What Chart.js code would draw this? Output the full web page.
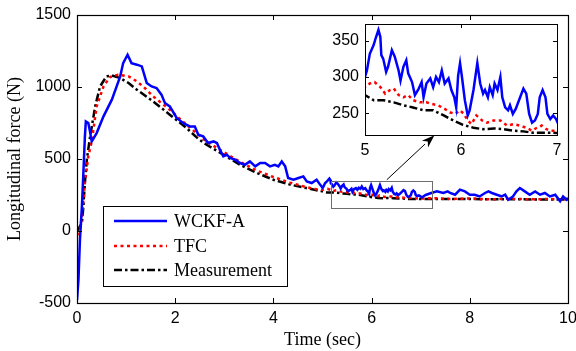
<!DOCTYPE html>
<html>
<head>
<meta charset="utf-8">
<script src="https://cdn.jsdelivr.net/npm/chart.js@4.4.0/dist/chart.umd.min.js"></script>
<style>
  html, body { margin: 0; padding: 0; background: #fff; }
  #wrap { position: relative; width: 576px; height: 351px; }
  #main { position: absolute; left: 0; top: 0; }
  #inset { position: absolute; left: 322px; top: 18px; }
</style>
</head>
<body>
<div id="wrap">
  <canvas id="main" width="576" height="351"></canvas>
  <canvas id="inset" width="243" height="145"></canvas>
</div>
<script>
// series (time in sec, force in N)
const wckfT = [0, 0.03, 0.06, 0.1, 0.13, 0.16, 0.18, 0.23, 0.26, 0.3, 0.4, 0.54, 0.71, 0.88, 0.94, 1.03, 1.11, 1.22, 1.32, 1.42, 1.52, 1.62, 1.72, 1.79, 1.89, 2.03, 2.16, 2.3, 2.4, 2.47, 2.57, 2.67, 2.78, 2.85, 2.91, 2.98, 3.05, 3.12, 3.22, 3.32, 3.42, 3.52, 3.63, 3.73, 3.83, 3.93, 4.03, 4.1, 4.17, 4.24, 4.3, 4.41, 4.51, 4.61, 4.68, 4.78, 4.88, 4.95,
  5.0, 5.02, 5.05, 5.09, 5.11, 5.14, 5.16, 5.17, 5.19, 5.22, 5.24, 5.28, 5.31, 5.35, 5.37, 5.4, 5.43, 5.45, 5.49, 5.52, 5.56, 5.59, 5.61, 5.64, 5.68, 5.71, 5.74, 5.77, 5.8, 5.83, 5.87, 5.9, 5.93, 5.95, 5.97, 5.99, 6.01, 6.04, 6.07, 6.09, 6.13, 6.17, 6.2, 6.23, 6.25, 6.28, 6.3, 6.33, 6.35, 6.38, 6.41, 6.43, 6.46, 6.49, 6.51, 6.54, 6.57, 6.61, 6.65, 6.68, 6.71, 6.74, 6.77, 6.8, 6.82, 6.85, 6.88, 6.9, 6.93, 6.96, 6.99, 7.02,
  7.1, 7.2, 7.33, 7.46, 7.55, 7.6, 7.7, 7.8, 7.9, 8.0, 8.1, 8.2, 8.31, 8.38, 8.45, 8.55, 8.65, 8.72, 8.78, 8.88, 8.95, 9.02, 9.12, 9.22, 9.33, 9.43, 9.53, 9.63, 9.74, 9.84, 9.9, 9.97, 10];
const wckfF = [-480, -338, -60, 171, 404, 650, 761, 750, 700, 622, 680, 796, 912, 1074, 1166, 1224, 1166, 1155, 1143, 1028, 1004, 993, 947, 889, 865, 785, 750, 726, 726, 669, 657, 611, 622, 611, 565, 518, 530, 507, 495, 472, 460, 483, 449, 472, 472, 449, 460, 449, 483, 449, 368, 356, 368, 379, 344, 333, 356, 322,
  300, 309, 332, 344, 353, 365, 355, 330, 325, 307, 314, 337, 328, 309, 295, 314, 323, 305, 293, 275, 284, 293, 272, 291, 298, 286, 300, 293, 309, 291, 298, 282, 272, 258, 302, 319, 300, 268, 247, 254, 282, 319, 291, 277, 282, 272, 286, 275, 291, 282, 300, 272, 258, 254, 261, 249, 256, 270, 284, 277, 249, 237, 240, 249, 272, 282, 272, 249, 242, 247, 242, 233,
  250, 262, 275, 264, 275, 264, 252, 287, 275, 252, 252, 240, 264, 275, 264, 252, 240, 252, 217, 240, 275, 298, 275, 252, 275, 252, 264, 240, 252, 206, 240, 217, 230];

const tfcT = [0, 0.06, 0.1, 0.16, 0.23, 0.3, 0.4, 0.54, 0.67, 0.84, 1.05, 1.22, 1.38, 1.55, 1.89, 2.23, 2.47, 2.64, 2.98, 3.32, 3.66, 4.0, 4.34, 4.67, 4.85,
  5.0, 5.05, 5.1, 5.16, 5.21, 5.26, 5.3, 5.35, 5.4, 5.45, 5.5, 5.57, 5.64, 5.69, 5.76, 5.83, 5.89, 5.94, 5.99, 6.03, 6.07, 6.11, 6.16, 6.22, 6.27, 6.34, 6.41, 6.48, 6.55, 6.61, 6.68, 6.74, 6.79, 6.84, 6.89, 6.94, 7.0,
  7.3, 7.6, 8.0, 8.4, 8.8, 9.2, 9.6, 10];
const tfcF = [-30, 9, 100, 333, 518, 622, 865, 1004, 1069, 1085, 1074, 1039, 993, 935, 842, 738, 669, 620, 550, 480, 420, 375, 335, 305, 292,
  286, 291, 293, 286, 277, 282, 284, 275, 272, 275, 268, 265, 265, 263, 261, 256, 251, 249, 254, 249, 240, 235, 247, 240, 237, 240, 240, 233, 235, 233, 230, 226, 230, 233, 228, 226, 226,
  228, 222, 226, 220, 224, 220, 222, 218];

const measT = [0, 0.1, 0.13, 0.16, 0.2, 0.26, 0.37, 0.47, 0.6, 0.71, 0.88, 1.05, 1.22, 1.55, 1.89, 2.23, 2.47, 2.64, 2.98, 3.32, 3.66, 4.0, 4.34, 4.67,
  5.0, 5.09, 5.19, 5.3, 5.4, 5.5, 5.61, 5.71, 5.82, 5.92, 6.02, 6.13, 6.23, 6.34, 6.44, 6.55, 6.65, 6.75, 6.86, 6.96,
  7.5, 8.0, 8.5, 9.0, 9.5, 10];
const measF = [0, 55, 171, 333, 495, 640, 865, 1004, 1074, 1080, 1062, 1028, 981, 900, 808, 715, 640, 599, 530, 460, 403, 356, 322, 298,
  275, 268, 268, 265, 261, 258, 254, 254, 247, 240, 234, 230, 228, 229, 228, 226, 225, 223, 223, 223,
  222, 222, 220, 220, 218, 218];

const seriesNames = ['WCKF-A', 'TFC', 'Measurement'];

// axes
const mainXTicks = [0, 2, 4, 6, 8, 10];
const mainYTicks = [-500, 0, 500, 1000, 1500];
const insetXTicks = [5, 6, 7];
const insetYTicks = [250, 300, 350];

// zoom box (data coords) and the arrow to the inset
const zoomBox = { x0: 5.17, x1: 7.24, y0: 162, y1: 349 };
const arrowFrom = { x: 6.31, y: 356 };
const arrowTo = { x: 7.28, y: 665 };

const serif = '"Liberation Serif", "Times New Roman", serif';
const sans = '"Liberation Sans", Arial, sans-serif';

const pts = (ts, vs) => ts.map((t, i) => ({ x: t, y: vs[i] }));

function makeDatasets() {
  return [
    { label: seriesNames[0], data: pts(wckfT, wckfF), borderColor: '#0000ff', borderWidth: 2.5 },
    { label: seriesNames[1], data: pts(tfcT, tfcF), borderColor: '#ff0000', borderWidth: 2.5, borderDash: [3, 3.5] },
    { label: seriesNames[2], data: pts(measT, measF), borderColor: '#000000', borderWidth: 2.5, borderDash: [8, 3, 2.5, 3] }
  ];
}

// fixed axis sizes, no extra room asked for the end labels
const fixX = h => s => { s.height = h; s.paddingLeft = 0; s.paddingRight = 0; };
const fixY = w => s => { s.width = w; s.paddingTop = 0; s.paddingBottom = 0; };
const plainTick = v => String(v);

// MATLAB-like box with inward ticks on all four sides
const boxPlugin = {
  id: 'box',
  beforeDraw(chart, args, opts) {
    if (!opts.fill) return;
    const { ctx, chartArea: a } = chart;
    ctx.save();
    ctx.fillStyle = '#fff';
    ctx.fillRect(a.left, a.top, a.right - a.left, a.bottom - a.top);
    ctx.restore();
  },
  afterDatasetsDraw(chart, args, opts) {
    const { ctx, chartArea: a, scales: { x, y } } = chart;
    const len = opts.len || 5;
    ctx.save();
    ctx.strokeStyle = '#000';
    ctx.lineWidth = 1;
    ctx.beginPath();
    x.ticks.forEach(t => {
      const px = Math.round(x.getPixelForValue(t.value)) + 0.5;
      ctx.moveTo(px, a.bottom); ctx.lineTo(px, a.bottom - len);
      ctx.moveTo(px, a.top); ctx.lineTo(px, a.top + len);
    });
    y.ticks.forEach(t => {
      const py = Math.round(y.getPixelForValue(t.value)) + 0.5;
      ctx.moveTo(a.left, py); ctx.lineTo(a.left + len, py);
      ctx.moveTo(a.right, py); ctx.lineTo(a.right - len, py);
    });
    ctx.stroke();
    ctx.lineWidth = opts.lw || 1;
    ctx.strokeRect(Math.round(a.left) + 0.5, Math.round(a.top) + 0.5, Math.round(a.right - a.left), Math.round(a.bottom - a.top));
    ctx.restore();
  }
};

// zoom rectangle, arrow and legend on the main axes
const extrasPlugin = {
  id: 'extras',
  afterDraw(chart) {
    const { ctx, scales: { x, y } } = chart;
    ctx.save();
    // zoom rectangle
    const rx0 = Math.round(x.getPixelForValue(zoomBox.x0)) + 0.5;
    const rx1 = Math.round(x.getPixelForValue(zoomBox.x1)) + 0.5;
    const ry0 = Math.round(y.getPixelForValue(zoomBox.y1)) + 0.5;
    const ry1 = Math.round(y.getPixelForValue(zoomBox.y0)) + 0.5;
    ctx.strokeStyle = '#6e6e6e';
    ctx.lineWidth = 1;
    ctx.strokeRect(rx0, ry0, rx1 - rx0, ry1 - ry0);

    // arrow
    const ax0 = x.getPixelForValue(arrowFrom.x), ay0 = y.getPixelForValue(arrowFrom.y);
    const ax1 = x.getPixelForValue(arrowTo.x), ay1 = y.getPixelForValue(arrowTo.y);
    const ang = Math.atan2(ay1 - ay0, ax1 - ax0);
    const hl = 13, hw = 4.5;
    const bx = ax1 - hl * Math.cos(ang), by = ay1 - hl * Math.sin(ang);
    ctx.strokeStyle = '#000';
    ctx.beginPath();
    ctx.moveTo(ax0, ay0); ctx.lineTo(bx, by);
    ctx.stroke();
    ctx.fillStyle = '#000';
    ctx.beginPath();
    ctx.moveTo(ax1, ay1);
    ctx.lineTo(bx + hw * Math.sin(ang), by - hw * Math.cos(ang));
    ctx.lineTo(ax1 - 0.7 * hl * Math.cos(ang), ay1 - 0.7 * hl * Math.sin(ang));
    ctx.lineTo(bx - hw * Math.sin(ang), by + hw * Math.cos(ang));
    ctx.closePath();
    ctx.fill();

    // legend
    const lx = 103.5, ly = 206.5, lw = 184, lh = 80;
    ctx.fillStyle = '#fff';
    ctx.fillRect(lx, ly, lw, lh);
    ctx.strokeStyle = '#000';
    ctx.lineWidth = 1;
    ctx.strokeRect(lx, ly, lw, lh);
    const rows = [221, 246, 270];
    ctx.font = '18px ' + serif;
    ctx.textBaseline = 'middle';
    chart.data.datasets.forEach((ds, i) => {
      ctx.strokeStyle = ds.borderColor;
      ctx.lineWidth = ds.borderWidth;
      ctx.setLineDash(ds.borderDash || []);
      ctx.beginPath();
      ctx.moveTo(114, rows[i]); ctx.lineTo(167, rows[i]);
      ctx.stroke();
      ctx.setLineDash([]);
      ctx.fillStyle = '#000';
      ctx.fillText(ds.label, 174, rows[i] + 1);
    });
    ctx.restore();
  }
};

const mainChart = new Chart(document.getElementById('main'), {
  type: 'line',
  data: { datasets: makeDatasets() },
  options: {
    responsive: false,
    animation: false,
    layout: { padding: { top: 15, right: 8, left: 0, bottom: 0 } },
    elements: { point: { radius: 0 }, line: { tension: 0 } },
    plugins: { legend: { display: false }, tooltip: { enabled: false }, box: { len: 5, lw: 1.2 } },
    scales: {
      x: {
        type: 'linear', min: 0, max: 10,
        afterBuildTicks: s => { s.ticks = mainXTicks.map(v => ({ value: v })); },
        afterFit: fixX(48),
        grid: { display: false, drawTicks: false },
        border: { display: false },
        ticks: { padding: 6, color: '#000', font: { family: sans, size: 16 }, callback: plainTick },
        title: { display: true, text: 'Time (sec)', color: '#000', font: { family: serif, size: 18 }, padding: { top: 0, bottom: 0 } }
      },
      y: {
        type: 'linear', min: -500, max: 1500,
        afterBuildTicks: s => { s.ticks = mainYTicks.map(v => ({ value: v })); },
        afterFit: fixY(77),
        grid: { display: false, drawTicks: false },
        border: { display: false },
        ticks: { padding: 6, color: '#000', font: { family: sans, size: 16 }, callback: plainTick },
        title: { display: true, text: 'Longitudinal force (N)', color: '#000', font: { family: serif, size: 18 }, padding: { top: 4, bottom: 0 } }
      }
    }
  },
  plugins: [boxPlugin, extrasPlugin]
});

const insetChart = new Chart(document.getElementById('inset'), {
  type: 'line',
  data: { datasets: makeDatasets() },
  options: {
    responsive: false,
    animation: false,
    layout: { padding: { top: 6, right: 8, left: 0, bottom: 0 } },
    elements: { point: { radius: 0 }, line: { tension: 0 } },
    plugins: { legend: { display: false }, tooltip: { enabled: false }, box: { len: 4, lw: 1, fill: true } },
    scales: {
      x: {
        type: 'linear', min: 5, max: 7,
        afterBuildTicks: s => { s.ticks = insetXTicks.map(v => ({ value: v })); },
        afterFit: fixX(28),
        grid: { display: false, drawTicks: false },
        border: { display: false },
        ticks: { padding: 6, color: '#000', font: { family: sans, size: 16 }, callback: plainTick }
      },
      y: {
        type: 'linear', min: 220, max: 373,
        afterBuildTicks: s => { s.ticks = insetYTicks.map(v => ({ value: v })); },
        afterFit: fixY(43),
        grid: { display: false, drawTicks: false },
        border: { display: false },
        ticks: { padding: 6, color: '#000', font: { family: sans, size: 16 }, callback: plainTick }
      }
    }
  },
  plugins: [boxPlugin]
});
</script>
</body>
</html>
